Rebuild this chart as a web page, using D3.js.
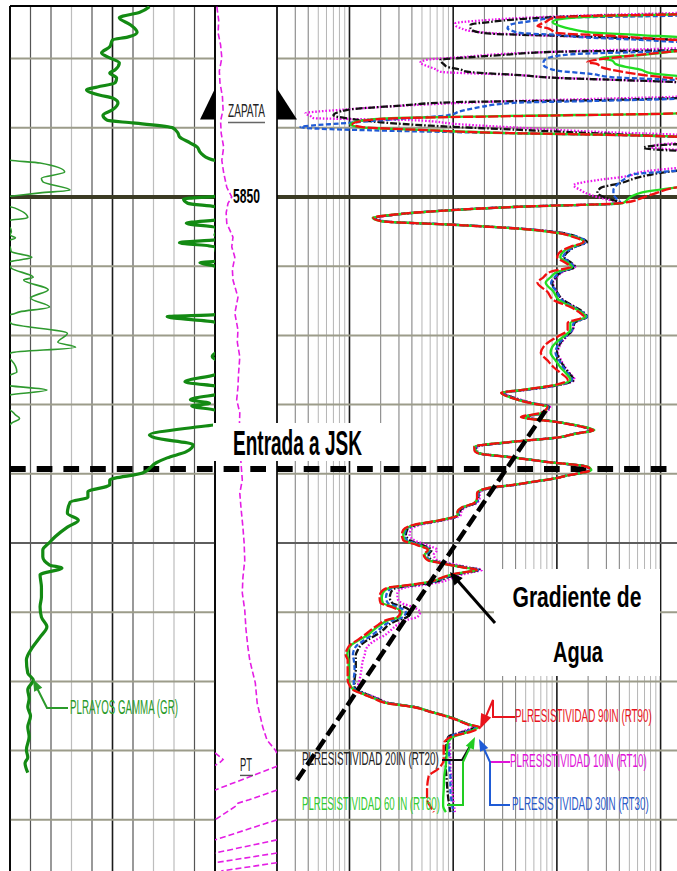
<!DOCTYPE html>
<html><head><meta charset="utf-8">
<script src="https://cdn.jsdelivr.net/npm/d3@7"></script>
<style>body{margin:0;background:#fff}svg{display:block}</style>
</head><body><svg id="c" width="677" height="871"></svg>
<script>
// ---------------- DATA ----------------
const depthDomain = [5822.4, 5947.4];
const depthGridLines = [5830,5840,5850,5860,5870,5880,5890,5900,5910,5920,5930,5940];
const depthLabel = 5850;
const jskDepth = 5889.3;
const zapataDepth = 5838.8;
const ptDepth = 5932.0;
const gradientLine = [[5880.9, 77.6],[5934.4, 0.308]];

// Gamma ray [depth, API]  (track 0-150, wraps to backup 150-300)
const grCurve = [
[5822.5,102],[5823.3,95],[5824.1,80],[5825.1,88],[5826.2,93],[5826.9,86],[5827.3,75],[5828.3,73],[5829.2,67],[5829.9,73],[5830.6,80],[5831.6,77],[5832.1,73],[5832.8,78],[5833.5,77],[5834.1,64],[5834.5,56],[5835.3,66],[5835.7,75],[5836.4,79],[5837.4,75],[5838.2,68],[5838.9,71],[5839.3,90],[5840.0,119],[5840.8,123],[5841.3,124],[5842.2,132],[5842.8,137],[5843.5,139],[5843.9,141],[5844.4,145],[5844.7,150],[5845.1,172],[5846.4,190],[5847.3,173],[5847.8,174],[5849.0,194],[5849.4,172],[5849.9,150],[5850.3,127],[5850.9,130],[5851.4,150],[5851.9,157],[5853.0,163],[5853.3,152],[5853.8,129],[5854.4,150],[5855.0,151],[5855.5,150],[5855.9,154],[5856.2,150],[5856.6,124],[5857.2,150],[5857.9,151],[5858.7,166],[5859.1,157],[5859.3,151],[5859.5,139],[5860.0,150],[5860.3,151],[5861.6,167],[5862.0,160],[5863.4,178],[5864.6,165],[5865.9,179],[5866.6,157],[5867.0,150],[5867.3,115],[5868.1,150],[5868.3,151],[5869.7,192],[5871.0,185],[5871.7,198],[5872.5,151],[5873.1,148],[5873.6,151],[5875.3,155],[5875.7,150],[5876.7,128],[5877.3,150],[5877.9,177],[5878.6,150],[5879.3,132],[5879.8,146],[5880.2,133],[5880.8,150],[5881.5,154],[5882.0,157],[5882.7,151],[5882.9,150],[5883.2,138],[5884.4,102],[5884.8,106],[5885.8,134],[5886.8,129],[5887.7,115],[5888.4,107],[5889.9,97],[5890.9,73],[5891.6,73],[5892.6,57],[5893.4,57],[5894.1,44],[5895.7,42],[5896.7,50],[5897.7,42],[5899.1,33],[5899.9,29],[5901.0,24],[5902.0,24],[5903.2,29],[5903.6,38],[5904.6,22],[5906.4,23],[5907.8,23],[5909.2,22],[5910.7,23],[5912.1,27],[5913.6,22],[5915.2,16],[5916.9,12],[5918.8,13],[5919.8,17],[5921.2,13],[5922.5,14],[5923.7,13],[5925.0,15],[5926.6,13],[5928.0,14],[5929.9,12],[5931.0,13],[5931.8,11],[5933.2,13]
];

// Depth-track curve (wraps in a 0-100 track)
const tensionCurve = [
[5822.5,3],[5824.5,6],[5826.3,5],[5828.0,9],[5829.9,11],[5831.8,7],[5833.5,8],[5835.5,12],[5837.4,13],[5839.0,9],[5840.8,10],[5842.8,14],[5844.7,11],[5846.5,14],[5848.6,19],[5850.0,27],[5850.9,21],[5852.3,18],[5853.8,19],[5855.8,29],[5857.2,27],[5858.7,32],[5860.5,28],[5862.0,29],[5864.5,37],[5866.8,32],[5869.2,37],[5871.0,36],[5873.1,40],[5875.5,38],[5877.5,37],[5879.3,35],[5881.2,40],[5884.0,39],[5886.1,40],[5888.5,42],[5890.9,44],[5892.8,40],[5895.0,42],[5897.7,45],[5900.0,47],[5902.5,48],[5905.0,45],[5907.2,44],[5909.7,48],[5912.5,50],[5915.0,53],[5916.9,56],[5918.4,60],[5920.2,65],[5923.1,68],[5926.6,77],[5928.5,84],[5929.9,97],[5930.3,99.5],[5930.9,108],[5931.3,113],[5931.8,107],[5932.1,100.5],[5932.3,99],[5935.7,0],[5937.1,-45],[5937.6,-63],[5938.0,-66],[5940.0,-100],[5942.9,-200],[5944.8,-300],[5946.2,-400],[5947.4,-490]
];

// Resistivity curves [depth, ohm.m]
const rt90 = [
[5822.5,3000],[5823.3,3000],[5823.6,1455],[5823.8,263],[5824.1,93],[5824.7,78],[5825.3,65],[5825.6,81],[5826.0,91],[5826.3,101],[5826.7,329],[5827.2,1000],[5827.6,3000],
[5828.5,3000],[5828.9,1455],[5829.6,513],[5830.2,236],[5830.5,197],[5830.8,246],[5831.2,263],[5831.6,329],[5832.1,513],[5832.5,800],[5832.9,1455],[5833.4,3000],
[5837.4,3000],[5837.9,1455],[5838.3,45],[5838.6,3.1],[5839.0,1.33],[5839.5,1.07],[5839.9,1.33],[5840.3,4.8],[5840.8,45],[5841.0,263],[5841.3,1455],[5841.8,3000],
[5848.0,3000],[5848.6,1455],[5849.7,800],[5850.9,411],[5851.4,45],[5852.0,7.5],[5852.6,2.5],[5853.0,1.7],[5853.5,2.0],[5854.0,9.4],[5854.6,45],[5855.2,101],
[5855.8,145],[5856.5,181],[5857.2,135],[5857.9,108],[5858.7,101],[5859.5,121],[5860.1,135],[5860.8,87],[5861.6,74],[5862.4,65],[5863.7,81],[5864.9,93],[5865.9,135],[5866.6,162],[5867.3,181],[5868.2,127],[5869.2,127],[5870.2,101],[5871.1,81],[5871.7,74],[5872.5,70],[5873.6,81],[5874.6,93],[5875.4,108],[5876.4,127],[5877.2,93],[5877.9,45],[5878.3,29],[5879.0,36],[5879.8,56],[5880.3,81],[5881.2,70],[5881.8,45],[5882.5,97],[5883.4,197],[5883.7,225],[5884.2,151],[5884.7,108],[5885.4,36],[5886.1,16],[5886.6,16],[5887.0,17],[5887.7,40],[5888.3,81],[5889.0,197],[5889.5,211],[5889.9,169],[5890.3,121],[5890.6,101],[5891.2,56],[5891.6,38],[5892.1,21],[5892.8,17],[5893.5,17],[5894.2,16],[5894.9,12],[5895.5,11],[5896.0,11],[5896.7,7.5],[5897.4,4.1],[5898.1,3.3],[5898.8,3.2],[5899.6,3.3],[5900.3,4.5],[5901.0,5.7],[5901.7,5.2],[5902.5,5.7],[5902.9,7.5],[5903.5,12],[5903.9,17],[5904.2,13],[5904.6,9.4],[5905.1,7.5],[5905.6,6.0],[5906.1,3.6],[5906.5,2.3],[5907.2,2.0],[5907.9,1.95],[5908.7,2.0],[5909.2,2.5],[5910.0,3.1],[5910.7,2.9],[5911.1,2.3],[5911.8,1.9],[5912.6,1.6],[5913.3,1.4],[5914.0,1.2],[5914.7,1.02],[5915.5,0.94],[5916.2,0.92],[5916.9,0.96],[5918.4,0.96],[5919.8,0.96],[5920.8,1.02],[5921.2,1.07],[5921.7,1.28],[5922.4,1.67],[5923.1,2.2],[5923.7,4.1],[5924.4,6.0],[5925.1,8.8],[5925.5,10.5],[5926.2,13.7],[5926.6,18],[5927.3,14.7],[5927.9,10],[5928.3,8.8],[5929.1,8.1],[5931.3,8.1],[5932.7,7.1],[5933.7,5.8],[5935.7,5.6],[5937.1,5.6],[5938.0,6.0],[5938.9,6.5]
];
const rt60 = [
[5822.5,3000],[5823.3,3000],[5823.6,1455],[5823.8,411],[5824.3,108],[5824.7,90.7],[5825.3,108],[5825.7,135],[5826.2,211],[5826.6,640],[5827.0,1940],[5827.5,3000],
[5828.5,3000],[5828.9,1455],[5829.5,640],[5829.9,263],[5830.3,343],[5830.8,370],[5831.2,460],[5831.6,640],[5832.1,800],[5832.5,1455],[5832.9,3000],
[5837.4,3000],[5837.9,1455],[5838.3,28.6],[5838.6,2.5],[5839.0,1.28],[5839.5,1.02],[5839.9,1.22],[5840.3,4.8],[5840.8,44.6],[5841.0,263],[5841.3,1455],[5841.8,3000],
[5848.0,3000],[5848.6,1455],[5849.4,640],[5850.0,513],[5850.9,430],[5851.4,44.6],[5852.0,7.5],[5852.6,2.5],[5853.0,1.67],[5853.5,2.0],[5854.0,9.4],[5854.6,44.6],[5855.2,101],
[5855.8,151],[5856.5,181],[5857.2,140],[5857.9,115],[5858.7,108],[5859.5,127],[5860.1,140],[5860.8,101],[5861.6,87],[5862.4,78],[5863.7,93],[5864.9,105],[5865.9,140],[5866.6,169],[5867.3,190],[5868.2,135],[5869.2,135],[5870.2,115],[5871.1,97],[5871.7,90],[5872.5,87],[5873.6,97],[5874.6,108],[5875.4,121],[5876.4,135],[5877.2,97],[5877.9,45],[5878.3,29],[5879.0,36],[5879.8,56],[5880.3,81],[5881.2,72],[5881.8,47],[5882.5,100],[5883.4,205],[5883.7,230],[5884.2,155],[5884.7,108],[5885.4,36],[5886.1,16],[5886.6,16.5],[5887.0,17.5],[5887.7,41],[5888.3,83],[5889.0,200],[5889.5,215],[5889.9,172],[5890.3,121],[5890.6,101],[5891.2,56],[5891.6,38],[5892.1,21],[5892.8,17],[5893.5,17],[5894.2,16],[5894.9,12],[5895.5,11],[5896.0,11],[5896.7,7.5],[5897.4,4.2],[5898.1,3.4],[5898.8,3.3],[5899.6,3.4],[5900.3,4.6],[5901.0,5.8],[5901.7,5.3],[5902.5,5.8],[5902.9,7.6],[5903.5,12],[5903.9,17],[5904.2,13],[5904.6,9.5],[5905.1,7.6],[5905.6,6.1],[5906.1,3.7],[5906.5,2.4],[5907.2,2.1],[5907.9,2.05],[5908.7,2.1],[5909.2,2.6],[5910.0,3.2],[5910.7,3.0],[5911.1,2.4],[5911.8,2.0],[5912.6,1.7],[5913.3,1.5],[5914.0,1.25],[5914.7,1.05],[5915.5,0.97],[5916.2,0.95],[5916.9,0.98],[5918.4,0.98],[5919.8,0.98],[5920.8,1.04],[5921.2,1.1],[5921.7,1.3],[5922.4,1.7],[5923.1,2.25],[5923.7,4.2],[5924.4,6.1],[5925.1,9.0],[5925.5,10.7],[5926.2,14],[5926.6,17.5],[5927.3,14],[5927.9,10.5],[5928.3,9.4],[5929.1,8.8],[5931.3,8.6],[5932.7,8.4],[5933.7,8.2],[5935.7,8.1],[5937.1,8.0],[5938.0,8.0],[5938.9,8.5]
];
const rt30 = [
[5822.5,3000],[5823.6,3000],[5823.8,1455],[5824.1,108],[5824.6,55.6],[5825.1,35.7],[5825.6,33.4],[5826.0,37.2],[5826.3,44.6],[5826.6,108],[5826.9,169],[5827.3,640],[5827.6,1455],[5828.0,3000],
[5828.5,3000],[5828.9,1455],[5829.3,169],[5829.6,101],[5830.1,77.6],[5830.5,74.3],[5830.9,74.3],[5831.4,83],[5831.8,108],[5832.2,211],[5832.7,351],[5833.1,1455],[5833.5,3000],
[5835.4,3000],[5835.8,1455],[5836.1,263],[5836.4,38.1],[5837.0,18.3],[5837.6,11.8],[5838.2,8.8],[5838.7,3.1],[5839.3,0.96],[5839.9,0.337],[5840.2,0.66],[5840.5,4.1],[5840.8,44.6],[5841.0,263],[5841.3,1455],[5841.8,3000],
[5845.8,3000],[5846.2,1455],[5846.8,513],[5847.3,460],[5847.8,411],[5848.4,370],[5849.0,351],[5849.6,351],[5850.1,370],[5850.9,411],[5851.4,44.6],[5852.0,7.5],[5852.6,2.55],[5853.0,1.74],[5853.5,2.08],[5854.0,9.8],[5854.6,47],[5855.2,108],
[5855.8,160],[5856.5,190],[5857.2,150],[5857.9,125],[5858.7,115],[5859.5,135],[5860.1,145],[5860.8,110],[5861.6,95],[5862.4,88],[5863.7,100],[5864.9,112],[5865.9,145],[5866.6,175],[5867.3,195],[5868.2,145],[5869.2,140],[5870.2,120],[5871.1,105],[5871.7,100],[5872.5,97],[5873.6,105],[5874.6,115],[5875.4,127],[5876.4,140],[5877.2,100],[5877.9,47],[5878.3,30],[5879.0,37],[5879.8,58],[5880.3,83],[5881.2,74],[5881.8,48],[5882.5,100],[5883.4,200],[5883.7,225],[5884.2,152],[5884.7,108],[5885.4,37],[5886.1,16.5],[5886.6,16.5],[5887.0,17.5],[5887.7,41],[5888.3,82],[5889.0,198],[5889.5,212],[5889.9,170],[5890.3,121],[5890.6,101],[5891.2,57],[5891.6,39],[5892.1,21.5],[5892.8,17.5],[5893.5,17.5],[5894.2,16.5],[5894.9,12.3],[5895.5,11.3],[5896.0,11.2],[5896.7,7.7],[5897.4,4.3],[5898.1,3.5],[5898.8,3.4],[5899.6,3.6],[5900.3,4.8],[5901.0,6.0],[5901.7,5.5],[5902.5,6.0],[5902.9,7.8],[5903.5,12.5],[5903.9,17.5],[5904.2,13.5],[5904.6,10],[5905.1,8.0],[5905.6,6.5],[5906.1,4.0],[5906.5,2.6],[5907.2,2.3],[5907.9,2.25],[5908.7,2.35],[5909.2,2.9],[5910.0,3.5],[5910.7,3.3],[5911.1,2.7],[5911.8,2.2],[5912.6,1.9],[5913.3,1.65],[5914.0,1.4],[5914.7,1.2],[5915.5,1.1],[5916.2,1.08],[5916.9,1.1],[5918.4,1.12],[5919.8,1.1],[5920.8,1.1],[5921.2,1.15],[5921.7,1.35],[5922.4,1.75],[5923.1,2.3],[5923.7,4.2],[5924.4,6.1],[5925.1,9.0],[5925.5,10.7],[5926.2,14],[5926.6,16.5],[5927.3,13],[5927.9,9.5],[5928.3,9.0],[5929.1,9.0],[5931.3,9.2],[5932.7,9.2],[5933.7,9.4],[5935.7,9.4],[5937.1,9.6],[5938.0,9.8],[5938.9,10]
];
const rt20 = [
[5822.5,3000],[5823.3,3000],[5823.6,1455],[5823.8,263],[5824.3,44.6],[5824.7,22.9],[5825.1,14.7],[5825.6,14.7],[5826.0,15.7],[5826.4,22.9],[5826.7,101],[5827.0,411],[5827.3,1455],[5827.7,3000],
[5828.5,3000],[5828.8,1455],[5829.0,108],[5829.5,28.6],[5829.9,11.8],[5830.2,7.5],[5830.8,8.1],[5831.2,8.8],[5831.6,11.8],[5831.9,13.7],[5832.4,44.6],[5832.8,101],[5833.1,411],[5833.4,1455],[5833.8,3000],
[5835.3,3000],[5835.7,1455],[5836.0,263],[5836.3,10],[5836.8,3.1],[5837.4,0.96],[5838.2,0.70],[5838.6,0.92],[5839.2,2.0],[5839.7,6.0],[5840.3,44.6],[5840.9,329],[5841.3,1455],[5841.8,3000],
[5842.1,3000],[5842.5,1000],[5842.9,684],[5843.2,1000],[5843.5,3000],
[5845.8,3000],[5846.2,1455],[5847.1,640],[5848.0,411],[5848.7,263],[5849.4,246],[5850.1,294],[5850.9,411],[5851.4,44.6],[5852.0,7.5],[5852.6,2.6],[5853.0,1.78],[5853.5,2.08],[5854.0,9.8],[5854.6,47],[5855.2,113],
[5855.8,160],[5856.5,195],[5857.2,150],[5857.9,128],[5858.7,118],[5859.5,138],[5860.1,150],[5860.8,112],[5861.6,97],[5862.4,90],[5863.7,100],[5864.9,115],[5865.9,150],[5866.6,178],[5867.3,195],[5868.2,148],[5869.2,142],[5870.2,122],[5871.1,108],[5871.7,104],[5872.5,100],[5873.6,108],[5874.6,118],[5875.4,130],[5876.4,145],[5877.2,102],[5877.9,48],[5878.3,30],[5879.0,38],[5879.8,58],[5880.3,84],[5881.2,75],[5881.8,50],[5882.5,100],[5883.4,198],[5883.7,222],[5884.2,150],[5884.7,108],[5885.4,37],[5886.1,16.5],[5886.6,16.5],[5887.0,17.5],[5887.7,41],[5888.3,82],[5889.0,196],[5889.5,210],[5889.9,168],[5890.3,121],[5890.6,101],[5891.2,57],[5891.6,39],[5892.1,22],[5892.8,17.5],[5893.5,17.5],[5894.2,16.5],[5894.9,12.5],[5895.5,11.5],[5896.0,11.3],[5896.7,7.8],[5897.4,4.4],[5898.1,3.6],[5898.8,3.5],[5899.6,3.8],[5900.3,5.0],[5901.0,6.2],[5901.7,5.8],[5902.5,6.2],[5902.9,8.0],[5903.5,13],[5903.9,18],[5904.2,14],[5904.6,10.5],[5905.1,8.4],[5905.6,6.8],[5906.1,4.3],[5906.5,2.8],[5907.2,2.5],[5907.9,2.45],[5908.7,2.6],[5909.2,3.3],[5910.0,3.9],[5910.7,3.6],[5911.1,3.0],[5911.8,2.4],[5912.6,2.1],[5913.3,1.8],[5914.0,1.5],[5914.7,1.3],[5915.5,1.2],[5916.2,1.15],[5916.9,1.15],[5918.4,1.15],[5919.8,1.12],[5920.8,1.12],[5921.2,1.18],[5921.7,1.38],[5922.4,1.8],[5923.1,2.35],[5923.7,4.2],[5924.4,6.1],[5925.1,9.0],[5925.5,10.7],[5926.2,14],[5926.6,16],[5927.3,12.5],[5927.9,9.2],[5928.3,8.8],[5929.1,8.6],[5931.3,8.5],[5932.7,8.5],[5933.7,8.6],[5935.7,8.8],[5937.1,9.0],[5938.0,9.2],[5938.9,9.4]
];
const rt10 = [
[5822.5,3000],[5823.1,3000],[5823.4,1455],[5823.7,263],[5824.0,69.5],[5824.5,18.3],[5824.9,10.5],[5825.3,10.7],[5825.6,11.8],[5826.0,14.7],[5826.3,22.9],[5826.7,86.7],[5827.0,411],[5827.3,1455],[5827.7,3000],
[5828.0,3000],[5828.5,1455],[5828.8,263],[5829.2,44.6],[5829.8,11.8],[5830.2,5.4],[5830.6,4.8],[5831.1,5.65],[5831.5,6.7],[5831.9,7.5],[5832.4,44.6],[5832.7,81],[5833.1,411],[5833.4,1455],[5833.8,3000],
[5835.1,3000],[5835.5,1455],[5835.8,263],[5836.1,44.6],[5836.6,6.0],[5837.0,2.0],[5837.4,0.82],[5837.9,0.376],[5838.3,0.42],[5838.6,0.45],[5838.9,4.1],[5839.5,11.8],[5840.0,44.6],[5840.6,263],[5841.0,1455],[5841.5,3000],
[5841.9,3000],[5842.4,1000],[5842.8,800],[5843.2,1455],[5843.6,3000],
[5845.4,3000],[5845.8,1455],[5846.4,640],[5847.0,480],[5847.5,263],[5848.3,145],[5849.0,169],[5849.7,211],[5850.3,294],[5850.9,411],[5851.4,44.6],[5852.0,7.5],[5852.6,2.6],[5853.0,1.86],[5853.5,2.17],[5854.0,10],[5854.6,47],[5855.2,113],
[5855.8,155],[5856.5,190],[5857.2,148],[5857.9,125],[5858.7,118],[5859.5,135],[5860.1,150],[5860.8,115],[5861.6,100],[5862.4,92],[5863.7,100],[5864.9,115],[5865.9,148],[5866.6,175],[5867.3,192],[5868.2,148],[5869.2,142],[5870.2,124],[5871.1,110],[5871.7,105],[5872.5,102],[5873.6,110],[5874.6,120],[5875.4,132],[5876.4,148],[5877.2,104],[5877.9,50],[5878.3,31],[5879.0,39],[5879.8,60],[5880.3,86],[5881.2,77],[5881.8,52],[5882.5,100],[5883.4,196],[5883.7,220],[5884.2,150],[5884.7,108],[5885.4,38],[5886.1,17],[5886.6,17],[5887.0,18],[5887.7,42],[5888.3,84],[5889.0,195],[5889.5,208],[5889.9,166],[5890.3,121],[5890.6,101],[5891.2,58],[5891.6,40],[5892.1,22.5],[5892.8,18],[5893.5,18],[5894.2,17],[5894.9,13],[5895.5,12],[5896.0,11.8],[5896.7,8.2],[5897.4,4.8],[5898.1,3.9],[5898.8,3.8],[5899.6,4.2],[5900.3,5.6],[5901.0,7.0],[5901.7,6.5],[5902.5,7.0],[5902.9,9.0],[5903.5,14],[5903.9,19],[5904.2,15.5],[5904.6,12],[5905.1,9.6],[5905.6,7.8],[5906.1,5.0],[5906.5,3.3],[5907.2,2.9],[5907.9,2.9],[5908.7,3.2],[5909.2,4.0],[5910.0,4.8],[5910.7,4.5],[5911.1,3.6],[5911.8,2.9],[5912.6,2.5],[5913.3,2.2],[5914.0,1.8],[5914.7,1.55],[5915.5,1.43],[5916.2,1.4],[5916.9,1.35],[5918.4,1.3],[5919.8,1.25],[5920.8,1.2],[5921.2,1.22],[5921.7,1.4],[5922.4,1.85],[5923.1,2.4],[5923.7,4.2],[5924.4,6.1],[5925.1,9.0],[5925.5,10.7],[5926.2,13.5],[5926.6,15],[5927.3,12],[5927.9,9.5],[5928.3,9.2],[5929.1,9.2],[5931.3,9.4],[5932.7,9.4],[5933.7,9.6],[5935.7,9.8],[5937.1,10],[5938.0,10.2],[5938.9,10.4]
];

const labels = {
  gr: "PLRAYOS GAMMA (GR)",
  rt90: "PLRESISTIVIDAD 90IN (RT90)",
  rt20: "PLRESISTIVIDAD 20IN (RT20)",
  rt10: "PLRESISTIVIDAD 10IN (RT10)",
  rt60: "PLRESISTIVIDAD 60 IN (RT60)",
  rt30: "PLRESISTIVIDAD 30IN (RT30)"
};

// ---------------- CHART ----------------
const svg = d3.select("#c");
const y = d3.scaleLinear().domain(depthDomain).range([6, 871]);
const xGR = d3.scaleLinear().domain([0,150]).range([10,215]);
const xT = d3.scaleLinear().domain([0,100]).range([215,277]);
const xR = d3.scaleLog().domain([0.2,2000]).range([277, 691.8]);
const RIGHT = 677;

svg.append("rect").attr("width",677).attr("height",871).attr("fill","#fff");

const defs = svg.append("defs");
function clip(id,x0,x1){defs.append("clipPath").attr("id",id).append("rect").attr("x",x0).attr("y",6).attr("width",x1-x0).attr("height",871-6);}
clip("cg",10,215); clip("ct",215,277); clip("cr",277,RIGHT);

// GR track vertical grid
const grTicks = d3.range(0,151,15);
const grStyle = i => i===0||i===10 ? ["#000",1.6] : i===5 ? ["#1a1a1a",1.6] : (i===3||i===7||i===8) ? ["#bdbdbd",1.2] : ["#555",1.2];
grTicks.forEach((t,i)=>{
  const s=grStyle(i);
  svg.append("line").attr("x1",xGR(t)).attr("x2",xGR(t)).attr("y1",6).attr("y2",871).attr("stroke",s[0]).attr("stroke-width",s[1]);
});
// Res track log grid
[0.1,1,10,100,1000].forEach(dec=>{
  for(let m=1;m<=9;m++){
    const v=m*dec; if(v<0.2||xR(v)>RIGHT+1) continue;
    const x=xR(v);
    const st = m===1 ? ["#1a1a1a",1.6] : m<=4 ? ["#7a7a7a",1] : ["#b5b5b5",1];
    svg.append("line").attr("x1",x).attr("x2",x).attr("y1",6).attr("y2",871).attr("stroke",st[0]).attr("stroke-width",st[1]);
  }
});
// horizontal grid
depthGridLines.forEach(d=>{
  const st = d===depthLabel ? ["#3b3b24",4] : d===5900 ? ["#5e5e5e",2] : ["#9c9c8a",2];
  [[10,215],[277,RIGHT]].forEach(([a,b])=>{
    svg.append("line").attr("x1",a).attr("x2",b).attr("y1",y(d)).attr("y2",y(d)).attr("stroke",st[0]).attr("stroke-width",st[1]);
  });
});
[10,215,277].forEach(x=>svg.append("line").attr("x1",x).attr("x2",x).attr("y1",6).attr("y2",871).attr("stroke","#000").attr("stroke-width",1.6));
svg.append("line").attr("x1",10).attr("x2",RIGHT).attr("y1",6).attr("y2",6).attr("stroke","#000").attr("stroke-width",2);

// JSK dashed line
svg.append("line").attr("x1",10).attr("x2",RIGHT).attr("y1",y(jskDepth)).attr("y2",y(jskDepth))
  .attr("stroke","#000").attr("stroke-width",6).attr("stroke-dasharray","15.7,11");

// GR curves
const grLine = d3.line().curve(d3.curveMonotoneY).x(d=>xGR(d[1])).y(d=>y(d[0]));
const grBack = d3.line().curve(d3.curveMonotoneY).x(d=>xGR(d[1]-150)).y(d=>y(d[0]));
const gG = svg.append("g").attr("clip-path","url(#cg)");
gG.append("path").attr("d",grBack(grCurve)).attr("fill","none").attr("stroke","#2f9a2f").attr("stroke-width",1.6);
gG.append("path").attr("d",grLine(grCurve)).attr("fill","none").attr("stroke","#138a13").attr("stroke-width",3.2).attr("stroke-linejoin","round");

// depth track wrapped curve
function wrapPath(data, sc, lo, hi){
  const span=hi-lo; const band=v=>Math.floor((v-lo)/span);
  let p="", prev=null;
  data.forEach(([d,v])=>{
    const k=band(v);
    if(!prev){p+=`M${sc(v-k*span)},${y(d)}`;prev=[d,v,k];return;}
    let [d0,v0,k0]=prev;
    while(k0!==k){
      const dir=k>k0?1:-1;
      const b=lo+(dir>0?k0+1:k0)*span;
      const t=(b-v0)/(v-v0), db=d0+t*(d-d0);
      p+=`L${dir>0?sc(hi):sc(lo)},${y(db)}M${dir>0?sc(lo):sc(hi)},${y(db)}`;
      k0+=dir;
    }
    p+=`L${sc(v-k*span)},${y(d)}`;
    prev=[d,v,k];
  });
  return p;
}
svg.append("g").attr("clip-path","url(#ct)").append("path").attr("d",wrapPath(tensionCurve,xT,0,100))
  .attr("fill","none").attr("stroke","#e41ee4").attr("stroke-width",1.6).attr("stroke-dasharray","6,3");

// resistivity curves
const rLine = d3.line().curve(d3.curveMonotoneY).x(d=>xR(d[1])).y(d=>y(d[0]));
const gR = svg.append("g").attr("clip-path","url(#cr)");
const curves = [
  [rt10,"#ee14ee","1.6,1.8"],
  [rt20,"#111","7,2,1.6,2"],
  [rt30,"#1f5bd6","5,2.5"],
  [rt60,"#22dd22",null],
  [rt90,"#f01010","10,2.5"]
];
curves.forEach(([data,col,dash])=>{
  const p=gR.append("path").attr("d",rLine(data)).attr("fill","none").attr("stroke",col).attr("stroke-width",2.3).attr("stroke-linejoin","round");
  if(dash) p.attr("stroke-dasharray",dash);
});

// gradient dashed line
svg.append("line").attr("x1",xR(gradientLine[0][1])).attr("y1",y(gradientLine[0][0]))
  .attr("x2",xR(gradientLine[1][1])).attr("y2",y(gradientLine[1][0]))
  .attr("stroke","#000").attr("stroke-width",4.5).attr("stroke-dasharray","13,5");

// helpers
function arrowHead(x1,y1,x2,y2,col,L,Wd){
  const dx=x2-x1, dy=y2-y1, len=Math.hypot(dx,dy), ux=dx/len, uy=dy/len;
  const bx=x2-ux*L, by=y2-uy*L;
  svg.append("path").attr("d",`M${x2},${y2}L${bx-uy*Wd/2},${by+ux*Wd/2}L${bx+uy*Wd/2},${by-ux*Wd/2}Z`).attr("fill",col);
}
function poly(pts,col,w){
  svg.append("path").attr("d","M"+pts.map(p=>p.join(",")).join("L")).attr("fill","none").attr("stroke",col).attr("stroke-width",w);
}
// text sized so its natural width equals `width`, stretched vertically to `capH`
function txt(s,x,yb,capH,width,col,weight,anchor){
  const t=svg.append("text").attr("font-family","'Liberation Sans',Arial,sans-serif")
    .attr("font-weight",weight||"normal").attr("font-size",20).attr("fill",col).text(s);
  const w=t.node().getComputedTextLength();
  const fs=20*width/w;
  t.attr("font-size",fs);
  const sy=capH/(0.716*fs);
  const x0 = anchor==="middle" ? x-width/2 : x;
  t.attr("transform",`translate(${x0},${yb}) scale(1,${sy})`);
}

// text boxes
svg.append("rect").attr("x",213).attr("y",423).attr("width",169).attr("height",38).attr("fill","#fff");
txt("Entrada a JSK",233,455,25,129,"#000","bold");
svg.append("rect").attr("x",494).attr("y",569).attr("width",166).attr("height",107).attr("fill","#fff");
txt("Gradiente de",577,607,21.5,129,"#000","bold","middle");
txt("Agua",578,662,21.5,50,"#000","bold","middle");
poly([[495,623],[458,581]],"#000",3);
arrowHead(495,623,450,572,"#000",13,11);

// ZAPATA markers
const zy=y(zapataDepth);
svg.append("path").attr("d",`M215,${zy-31}L215,${zy}L200,${zy}Z`).attr("fill","#000");
svg.append("path").attr("d",`M277,${zy-31}L277,${zy}L297,${zy}Z`).attr("fill","#000");
txt("ZAPATA",228,zy-2,13.5,37,"#222");
svg.append("line").attr("x1",228).attr("x2",265).attr("y1",zy+3).attr("y2",zy+3).attr("stroke","#666").attr("stroke-width",1.6);
txt(String(depthLabel),233,y(depthLabel)+6,15,27,"#000","bold");
const py=y(ptDepth);
txt("PT",240,py+7,13.5,12,"#222");
svg.append("line").attr("x1",240).attr("x2",253).attr("y1",py+11).attr("y2",py+11).attr("stroke","#555").attr("stroke-width",1.4);

// legend labels & leaders
txt(labels.gr,70,714,14,108,"#2a9a2a");
poly([[68,708],[47,708],[36,686]],"#2a9a2a",2);
arrowHead(47,708,33,679,"#2a9a2a",12,9);

txt(labels.rt90,515,722,13.5,137,"#e8141c");
poly([[515,717],[493,717],[493,700],[484,721]],"#e8141c",2);
arrowHead(493,700,480,729,"#e8141c",15,11);

txt(labels.rt20,302,765,13.5,137,"#222");
poly([[442,760],[462,760],[470,746]],"#111",2);

txt(labels.rt10,510,767,13.5,137,"#e014d8");
poly([[490,762],[510,762]],"#e014d8",2);

txt(labels.rt60,302,810,13.5,138,"#33cc33");
poly([[447,805],[463,805],[463,762],[471,745]],"#22cc22",2);
arrowHead(463,762,475,737,"#22cc22",12,9);

txt(labels.rt30,512,810,13.5,137,"#2a5ac8");
poly([[510,805],[490,805],[490,762],[484,749]],"#1f5bd6",2);
arrowHead(490,762,479,739,"#1f5bd6",12,9);
</script></body></html>
